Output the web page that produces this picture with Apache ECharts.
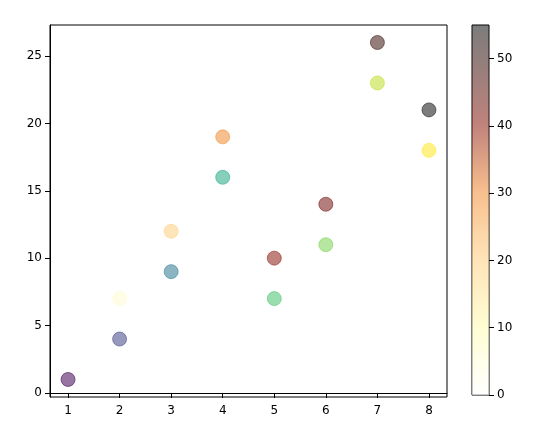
<!DOCTYPE html>
<html><head><meta charset="utf-8">
<script src="https://cdn.jsdelivr.net/npm/echarts@6/dist/echarts.min.js"></script>
<style>html,body{margin:0;background:#fff}#c{width:544px;height:431px}</style>
</head><body><div id="c"></div>
<script>
var xs = [1, 2, 3, 4, 5, 6, 7, 8];
var ysA = [1, 4, 9, 16, 7, 11, 23, 18];
var colorsA = ['#440154', '#414487', '#2a788e', '#22a884', '#47c16e', '#7ad151', '#bddf26', '#fde725'];
var xsB = [2, 3, 4, 5, 6, 7, 8];
var ysB = [7, 12, 19, 10, 14, 26, 21];
var colorsB = ['#fffbd0', '#fed080', '#f08a30', '#8c1c10', '#741410', '#3a1410', '#111111'];
var xTicks = [1, 2, 3, 4, 5, 6, 7, 8];
var yTicks = [0, 5, 10, 15, 20, 25];
var cTicks = [0, 10, 20, 30, 40, 50];
var cMax = 55;

var chart = echarts.init(document.getElementById('c'));
var ax = { lineStyle: { color: '#000' } };
var lab = { color: '#000', fontSize: 12, fontFamily: 'DejaVu Sans' };
function pts(xv, yv, cols) {
  return xv.map(function (x, i) {
    return { value: [x, yv[i]], itemStyle: { color: cols[i], opacity: 0.55, borderColor: cols[i], borderWidth: 1 } };
  });
}
chart.setOption({
  animation: false,
  grid: [
    { left: 50, top: 25, width: 397, height: 372, show: true, borderColor: '#000', borderWidth: 1 },
    { left: 472, top: 25, width: 17, height: 370, show: true, borderColor: '#000', borderWidth: 1 }
  ],
  xAxis: [
    { type: 'value', min: 0.65, max: 8.35, axisLine: ax, splitLine: { show: false },
      axisTick: { customValues: xTicks, lineStyle: { color: '#000' } },
      axisLabel: Object.assign({ customValues: xTicks }, lab) },
    { type: 'category', gridIndex: 1, show: false, data: ['c'] }
  ],
  yAxis: [
    { type: 'value', min: -0.3, max: 27.3, axisLine: { show: true, lineStyle: { color: '#000' } }, splitLine: { show: false },
      axisTick: { show: true, customValues: yTicks, lineStyle: { color: '#000' } },
      axisLabel: Object.assign({ customValues: yTicks }, lab) },
    { type: 'value', gridIndex: 1, position: 'right', min: 0, max: cMax,
      axisLine: { show: false }, splitLine: { show: false },
      axisTick: { show: true, customValues: cTicks, lineStyle: { color: '#000' } },
      axisLabel: Object.assign({ customValues: cTicks }, lab) }
  ],
  series: [
    { type: 'scatter', symbolSize: 14, data: pts(xs, ysA, colorsA) },
    { type: 'scatter', symbolSize: 14, data: pts(xsB, ysB, colorsB) },
    { type: 'bar', xAxisIndex: 1, yAxisIndex: 1, barWidth: '100%', data: [cMax],
      itemStyle: { opacity: 0.55, color: new echarts.graphic.LinearGradient(0, 1, 0, 0, [
        { offset: 0, color: '#ffffff' }, { offset: 0.18, color: '#fffbb0' },
        { offset: 0.36, color: '#fed080' }, { offset: 0.55, color: '#f08a30' },
        { offset: 0.73, color: '#8c1c10' }, { offset: 0.9, color: '#3a1410' },
        { offset: 1, color: '#111111' }]) } }
  ]
});
</script></body></html>
